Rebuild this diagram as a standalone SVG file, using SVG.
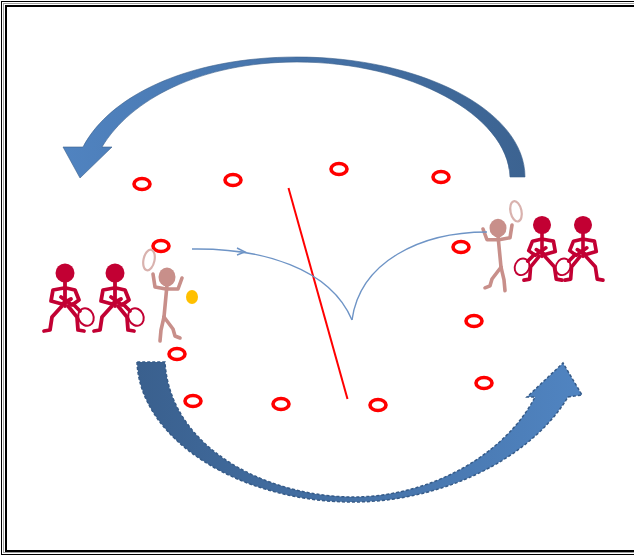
<svg xmlns="http://www.w3.org/2000/svg" width="634" height="556" viewBox="0 0 634 556">
  <defs>
    <linearGradient id="gTop" gradientUnits="userSpaceOnUse" x1="63" y1="0" x2="525" y2="0">
      <stop offset="0" stop-color="#5083c0"/>
      <stop offset="1" stop-color="#3c6391"/>
    </linearGradient>
    <linearGradient id="gBottom" gradientUnits="userSpaceOnUse" x1="137" y1="0" x2="582" y2="0">
      <stop offset="0" stop-color="#3a608e"/>
      <stop offset="1" stop-color="#5084c1"/>
    </linearGradient>
    <!-- dark red waiting player, head centred on the origin, racket held low on the right -->
    <g id="waiting">
      <circle cx="0" cy="0" r="9.5" fill="#c20033"/>
      <g fill="none" stroke="#c20033" stroke-width="3.8" stroke-linecap="round" stroke-linejoin="round">
        <path d="M0,8 L0,33"/>
        <path d="M-1,15 L-12,17 L-14,28 L-3,31 L6,26"/>
        <path d="M1,15 L10,17 L14,27 L7,32 L-4,24"/>
        <path d="M-3,33 L-13,44 L-15,57 L-21,58"/>
        <path d="M3,33 L12,44 L13,57 L19,58"/>
        <path d="M8,31 L15,38"/>
      </g>
      <ellipse cx="21" cy="44" rx="7.5" ry="9" transform="rotate(-25 21 44)" fill="none" stroke="#c20033" stroke-width="2"/>
    </g>
    <!-- pink active player, head centred on the origin, racket raised on the left -->
    <g id="hitter">
      <ellipse cx="0" cy="0" rx="8.5" ry="9.5" fill="#c88f8a"/>
      <g fill="none" stroke="#c88f8a" stroke-width="3.6" stroke-linecap="round" stroke-linejoin="round">
        <path d="M0,8 L-3,40"/>
        <path d="M-1,12 L-12,10 L-14,-3"/>
        <path d="M1,12 L11,12 L15,1"/>
        <path d="M-3,40 L-6,53 L-7,64"/>
        <path d="M-3,40 L6,52 L8,59 L13,61"/>
      </g>
      <ellipse cx="-18" cy="-17" rx="5.5" ry="10.5" transform="rotate(12 -18 -17)" fill="none" stroke="#d9b2ae" stroke-width="2.2"/>
    </g>
  </defs>

  <style>
    .cone { fill: none; stroke: #ff0000; stroke-width: 3.6; }
    .flight { fill: none; stroke: #6e94c6; stroke-width: 1.4; }
  </style>

  <rect width="634" height="556" fill="#ffffff"/>

  <!-- double frame, open on the right -->
  <g id="frame" fill="none">
    <rect x="1.5" y="1.5" width="700" height="553" stroke="#000" stroke-width="1"/>
    <rect x="3.5" y="3.5" width="700" height="549" stroke="#a0a0a0" stroke-width="1"/>
    <rect x="6" y="6" width="700" height="545" stroke="#000" stroke-width="2"/>
  </g>

  <!-- rotation arrows -->
  <g id="arrow-top">
    <path d="M525,177 C525,110 420,57 297,57 C190,57 110,95 83,147 L63,147 L80,178 L112,147 L102,147 C130,100 200,62 297,62 C410,62 508,115 510,177 Z" fill="url(#gTop)" stroke="#3a5f8c" stroke-width="0.6"/>
  </g>
  <g id="arrow-bottom">
    <path d="M137,362 C140,440 240,502 353,502 C440,502 530,460 568,397 L582,395 L563,363 L527,397 L535,397 C505,455 430,497 353,497 C270,497 170,450 165,362 Z" fill="url(#gBottom)" stroke="#365b88" stroke-width="1.5" stroke-dasharray="3 2"/>
  </g>

  <!-- cones -->
  <g id="cones">
    <ellipse class="cone" cx="142" cy="184" rx="8" ry="5.5"/>
    <ellipse class="cone" cx="233" cy="180" rx="8" ry="5.5"/>
    <ellipse class="cone" cx="339" cy="169" rx="8" ry="5.5"/>
    <ellipse class="cone" cx="441" cy="177" rx="8" ry="5.5"/>
    <ellipse class="cone" cx="161" cy="246" rx="8" ry="5.5"/>
    <ellipse class="cone" cx="461" cy="247" rx="8" ry="5.5"/>
    <ellipse class="cone" cx="474" cy="321" rx="8" ry="5.5"/>
    <ellipse class="cone" cx="177" cy="354" rx="8" ry="5.5"/>
    <ellipse class="cone" cx="193" cy="401" rx="8" ry="5.5"/>
    <ellipse class="cone" cx="281" cy="404" rx="8" ry="5.5"/>
    <ellipse class="cone" cx="378" cy="405" rx="8" ry="5.5"/>
    <ellipse class="cone" cx="484" cy="383" rx="8" ry="5.5"/>
  </g>

  <!-- net -->
  <g id="net">
    <line x1="288.5" y1="188" x2="347.5" y2="399" stroke="#ff0000" stroke-width="2"/>
  </g>

  <!-- players -->
  <g id="players-left">
    <use href="#waiting" transform="translate(65,273)"/>
    <use href="#waiting" transform="translate(115,273)"/>
    <use href="#hitter" transform="translate(167,277)"/>
  </g>
  <g id="players-right">
    <use href="#hitter" transform="translate(498,228) scale(-1,0.98)"/>
    <use href="#waiting" transform="translate(542,225) scale(-0.95,0.95)"/>
    <use href="#waiting" transform="translate(583,225) scale(-0.95,0.95)"/>
  </g>

  <!-- ball -->
  <g id="ball">
    <ellipse cx="192" cy="297" rx="6" ry="7" fill="#ffc000"/>
  </g>

  <!-- ball flight -->
  <g id="connectors">
    <path class="flight" d="M192,249 C262,248 330,268 352,320"/>
    <path class="flight" d="M237,248 L245,252 L237,255"/>
    <path class="flight" d="M352,320 C360,262 420,232 487,232"/>
  </g>
</svg>
